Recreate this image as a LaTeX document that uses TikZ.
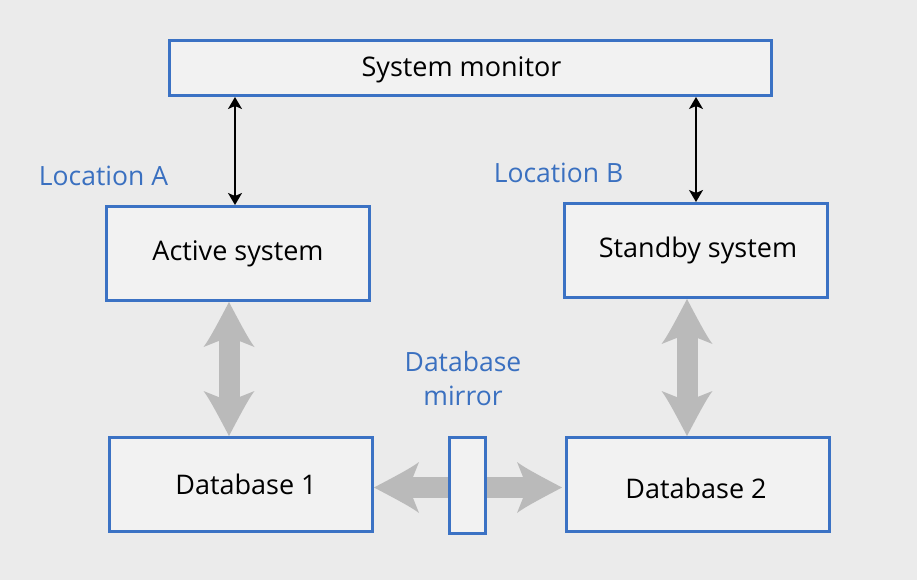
\documentclass[tikz,border=0pt]{standalone}
\usepackage{fontspec}
\setmainfont{Open Sans}
\usetikzlibrary{arrows.meta}

% broad filled head for the wide grey link arrows
\pgfdeclarearrow{
  name = Flare,
  setup code = {
    \pgfarrowssettipend{0pt}
    \pgfarrowssetlineend{-36pt}
    \pgfarrowssetbackend{-45pt}
    \pgfarrowssetvisualbackend{-40pt}
    \pgfarrowshullpoint{0pt}{0pt}
    \pgfarrowsupperhullpoint{-45pt}{25.5pt}
  },
  drawing code = {
    \pgfpathmoveto{\pgfqpoint{0pt}{0pt}}
    \pgfpathcurveto{\pgfqpoint{-20pt}{10.5pt}}{\pgfqpoint{-38pt}{20pt}}{\pgfqpoint{-45pt}{25.5pt}}
    \pgfpathlineto{\pgfqpoint{-39pt}{10.5pt}}
    \pgfpathlineto{\pgfqpoint{-39pt}{-10.5pt}}
    \pgfpathlineto{\pgfqpoint{-45pt}{-25.5pt}}
    \pgfpathcurveto{\pgfqpoint{-38pt}{-20pt}}{\pgfqpoint{-20pt}{-10.5pt}}{\pgfqpoint{0pt}{0pt}}
    \pgfpathclose
    \pgfusepathqfill
  }
}

\definecolor{bg}{RGB}{235,235,235}
\definecolor{boxfill}{RGB}{242,242,242}
\definecolor{boxline}{RGB}{59,114,196}
\definecolor{labelblue}{RGB}{58,112,192}
\definecolor{linkgray}{RGB}{186,186,186}

\tikzset{
  unit/.style={draw=boxline, fill=boxfill, line width=3pt, inner sep=0pt,
    font=\fontsize{27}{30}\selectfont, text=black},
  sitelabel/.style={font=\fontsize{26.5}{34}\selectfont, text=labelblue, align=center},
  control/.style={arrows={Stealth[length=12pt, width=14pt, inset=3pt]-Stealth[length=12pt, width=14pt, inset=3pt]},
    line width=1.4pt, black},
  bigtwo/.style={arrows={Flare-Flare}, line width=21pt, line cap=butt, linkgray},
  bigone/.style={arrows={-Flare}, line width=21pt, line cap=butt, linkgray},
}

\begin{document}
\begin{tikzpicture}[x=1pt, y=-1pt]
  \useasboundingbox (0,0) rectangle (917,580);
  \fill[bg] (0,0) rectangle (917,580);

  % boxes
  \node[unit, minimum width=602pt, minimum height=55pt] (mon) at (470.5,68) {\raisebox{-1.5pt}[\height][\depth]{System monitor}\hspace*{18pt}};
  \node[unit, minimum width=263pt, minimum height=94pt] (act) at (238,253.5) {Active system};
  \node[unit, minimum width=263pt, minimum height=94pt] (stb) at (696,250.5) {\hspace*{4pt}Standby system};
  \node[unit, minimum width=263pt, minimum height=94pt] (db1) at (241,484.5) {\hspace*{10pt}Database 1};
  \node[unit, minimum width=263pt, minimum height=94pt] (db2) at (698,484.5) {\raisebox{-4pt}[\height][\depth]{Database 2}\hspace*{4pt}};
  \node[unit, minimum width=36pt, minimum height=96pt] (mir) at (467.5,485.5) {};

  % labels
  \node[sitelabel] (locA) at (103.5,176) {Location A};
  \node[sitelabel] (locB) at (558.5,173) {Location B};
  \node[sitelabel] (mirlbl) at (463,379) {Database\\mirror};

  % monitoring links
  \draw[control] ([xshift=-3pt]act.north) -- ([xshift=-3pt]act.north |- mon.south);
  \draw[control] (stb.north) -- (stb.north |- mon.south);

  % data links
  \draw[bigtwo] ([xshift=-9pt]act.south) -- ([xshift=-9pt]act.south |- db1.north);
  \draw[bigtwo] ([xshift=-9pt]stb.south) -- ([xshift=-9pt]stb.south |- db2.north);
  \draw[bigone] ([yshift=-2pt]mir.west) -- ([yshift=-2pt]mir.west -| db1.east);
  \draw[bigone, shorten >=3pt] ([yshift=-2pt]mir.east) -- ([yshift=-2pt]mir.east -| db2.west);
\end{tikzpicture}
\end{document}
